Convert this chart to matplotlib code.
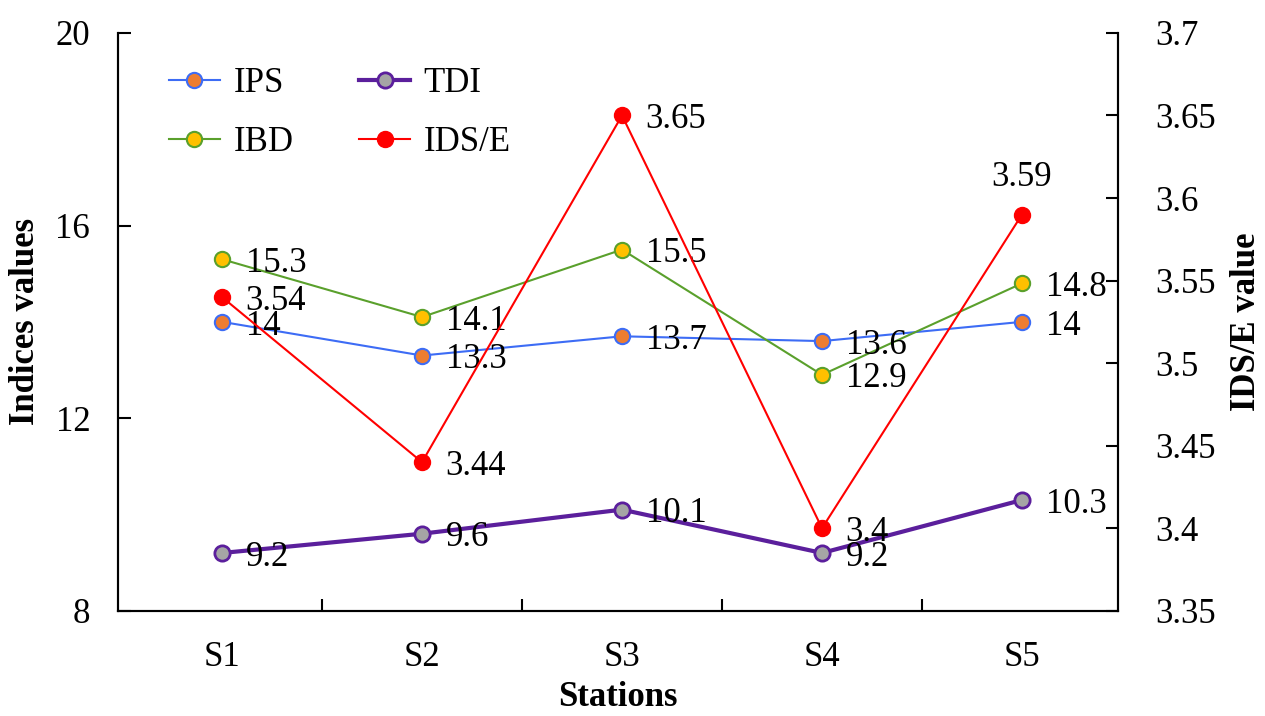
import matplotlib.pyplot as plt

plt.rcParams['font.family'] = ['Liberation Serif', 'DejaVu Serif']

stations = ['S1', 'S2', 'S3', 'S4', 'S5']
ips = [14, 13.3, 13.7, 13.6, 14]
tdi = [9.2, 9.6, 10.1, 9.2, 10.3]
ibd = [15.3, 14.1, 15.5, 12.9, 14.8]
idse = [3.54, 3.44, 3.65, 3.4, 3.59]

x = list(range(len(stations)))

fig, ax = plt.subplots(figsize=(12.65, 7.16), dpi=100)
fig.subplots_adjust(left=0.0933, right=0.8838, top=0.954, bottom=0.147)
ax2 = ax.twinx()

# left axis series
l1, = ax.plot(x, ips, color='#3d6cf5', lw=1.5, marker='o', ms=11,
              mfc='#ed7d31', mec='#3d6cf5', mew=1.5, label='IPS')
l3, = ax.plot(x, ibd, color='#5aa02c', lw=1.5, marker='o', ms=11,
              mfc='#ffc000', mec='#5aa02c', mew=1.5, label='IBD')
l2, = ax.plot(x, tdi, color='#5b1f9c', lw=3, marker='o', ms=11,
              mfc='#a5a5a5', mec='#5b1f9c', mew=2, label='TDI')
# right axis
l4, = ax2.plot(x, idse, color='#ff0000', lw=1.5, marker='o', ms=11.5,
               mfc='#ff0000', mec='#ff0000', label='IDS/E')

fs = 25
for xi, v in zip(x, ips):
    ax.annotate(f'{v:g}', (xi, v), xytext=(17, -3), textcoords='offset points',
                va='center', ha='left', fontsize=fs)
for xi, v in zip(x, ibd):
    ax.annotate(f'{v:g}', (xi, v), xytext=(17, -3), textcoords='offset points',
                va='center', ha='left', fontsize=fs)
for xi, v in zip(x, tdi):
    ax.annotate(f'{v:g}', (xi, v), xytext=(17, -3), textcoords='offset points',
                va='center', ha='left', fontsize=fs)
for xi, v in zip(x, idse):
    if xi == 4:
        ax2.annotate(f'{v:g}', (xi, v), xytext=(0, 15), textcoords='offset points',
                     va='bottom', ha='center', fontsize=fs)
    else:
        ax2.annotate(f'{v:g}', (xi, v), xytext=(17, -3), textcoords='offset points',
                     va='center', ha='left', fontsize=fs)

ax.set_xlim(-0.52, 4.48)
ax.set_ylim(8, 20)
ax.set_yticks([8, 12, 16, 20])
ax2.set_ylim(3.35, 3.7)
ax2.set_yticks([3.35, 3.4, 3.45, 3.5, 3.55, 3.6, 3.65, 3.7])
ax2.set_yticklabels(['3.35', '3.4', '3.45', '3.5', '3.55', '3.6', '3.65', '3.7'])

ax.set_xticks(x)
ax.set_xticklabels(stations)
ax.set_xticks([0.5, 1.5, 2.5, 3.5], minor=True)
ax.tick_params(axis='x', which='major', length=0, pad=22, labelsize=fs)
ax.tick_params(axis='x', which='minor', direction='in', length=9, width=1.5)
ax.tick_params(axis='y', direction='in', length=9, width=1.5, labelsize=fs, pad=20)
ax2.tick_params(axis='y', direction='in', length=9, width=1.5, labelsize=fs, pad=27)

for a in (ax, ax2):
    a.spines['top'].set_visible(False)
    for s in ('left', 'right', 'bottom'):
        a.spines[s].set_linewidth(1.5)

ax.set_xlabel('Stations', fontsize=fs, fontweight='bold', labelpad=5)
ax.set_ylabel('Indices values', fontsize=fs, fontweight='bold', labelpad=10)
ax2.set_ylabel('IDS/E value', fontsize=fs, fontweight='bold', rotation=90, labelpad=10)

ax.legend([l1, l3, l2, l4], ['IPS', 'IBD', 'TDI', 'IDS/E'], ncol=2, frameon=False,
          loc='upper left', bbox_to_anchor=(0.02, 0.995), fontsize=fs,
          handlelength=1.45, columnspacing=1.9, labelspacing=0.75, handletextpad=0.4)

fig.savefig('out.png', dpi=100)
